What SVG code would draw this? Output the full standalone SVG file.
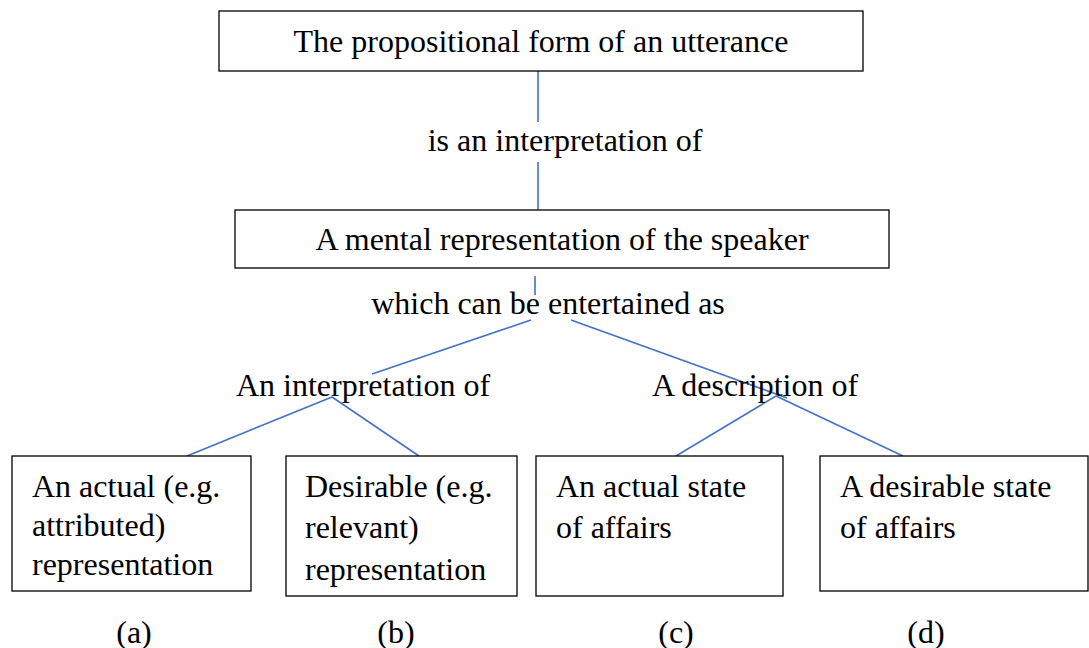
<svg xmlns="http://www.w3.org/2000/svg" width="1089" height="648" viewBox="0 0 1089 648">
<style>
.box{fill:#fff;stroke:#000;stroke-width:1.3}
.t{font-family:"Liberation Serif","Times New Roman",serif;font-size:32px;fill:#000}
.m{text-anchor:middle}
.c{stroke:#4472C4;stroke-width:1.6;fill:none}
</style>
<rect width="1089" height="648" fill="#fff"/>
<g id="connectors">
<line class="c" x1="538" y1="71" x2="538" y2="122"/>
<line class="c" x1="538" y1="162" x2="538" y2="210"/>
<line class="c" x1="535" y1="276" x2="535" y2="295"/>
<line class="c" x1="531" y1="320" x2="372" y2="374"/>
<line class="c" x1="571" y1="320" x2="787" y2="398"/>
<line class="c" x1="332" y1="397" x2="187" y2="456"/>
<line class="c" x1="332" y1="397" x2="419" y2="456"/>
<line class="c" x1="776" y1="396" x2="676" y2="456"/>
<line class="c" x1="776" y1="396" x2="903" y2="456"/>
</g>
<g id="n-top">
<rect class="box" x="219" y="11" width="644" height="60"/>
<text class="t m" x="541" y="52">The propositional form of an utterance</text>
</g>
<g id="e-top">
<text class="t m" x="565" y="151">is an interpretation of</text>
</g>
<g id="n-mental">
<rect class="box" x="235" y="210" width="654" height="58"/>
<text class="t m" x="562" y="250">A mental representation of the speaker</text>
</g>
<g id="e-mental">
<text class="t m" x="548" y="314">which can be entertained as</text>
</g>
<g id="n-interp">
<text class="t m" x="363" y="396">An interpretation of</text>
</g>
<g id="n-desc">
<text class="t m" x="755" y="396">A description of</text>
</g>
<g id="n-a">
<rect class="box" x="12" y="456" width="239" height="135"/>
<text class="t" x="32" y="497">An actual (e.g.</text>
<text class="t" x="32" y="536">attributed)</text>
<text class="t" x="32" y="575">representation</text>
<text class="t m" x="134" y="643">(a)</text>
</g>
<g id="n-b">
<rect class="box" x="286" y="456" width="231" height="140"/>
<text class="t" x="305" y="497">Desirable (e.g.</text>
<text class="t" x="305" y="538">relevant)</text>
<text class="t" x="305" y="580">representation</text>
<text class="t m" x="396" y="643">(b)</text>
</g>
<g id="n-c">
<rect class="box" x="536" y="456" width="247" height="140"/>
<text class="t" x="556" y="497">An actual state</text>
<text class="t" x="556" y="538">of affairs</text>
<text class="t m" x="676" y="643">(c)</text>
</g>
<g id="n-d">
<rect class="box" x="820" y="456" width="268" height="135"/>
<text class="t" x="840" y="497">A desirable state</text>
<text class="t" x="840" y="538">of affairs</text>
<text class="t m" x="926" y="643">(d)</text>
</g>
</svg>
